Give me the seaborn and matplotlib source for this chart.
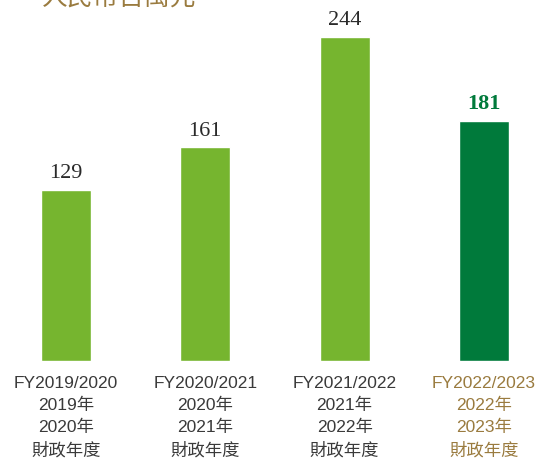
import matplotlib
matplotlib.use("Agg")
import matplotlib.pyplot as plt
import seaborn as sns
import pandas as pd

# ---------------------------------------------------------------------------
# Data
# ---------------------------------------------------------------------------
years = ["FY2019/2020", "FY2020/2021", "FY2021/2022", "FY2022/2023"]
tick_labels = [
    "FY2019/2020\n2019年\n2020年\n財政年度",
    "FY2020/2021\n2020年\n2021年\n財政年度",
    "FY2021/2022\n2021年\n2022年\n財政年度",
    "FY2022/2023\n2022年\n2023年\n財政年度",
]
values = [129, 161, 244, 181]
is_current = ["past", "past", "past", "current"]
title = "人民幣百萬元"

LIGHT_GREEN = "#76b52f"
DARK_GREEN = "#007a3b"
GOLD = "#9a7b3f"
GREY = "#3a3a3a"

df = pd.DataFrame({"year": years, "value": values, "kind": is_current})

sns.set_theme(style="white")
plt.rcParams["font.family"] = ["Liberation Sans", "Noto Sans CJK TC", "DejaVu Sans"]

fig = plt.figure(figsize=(5.39, 4.60), dpi=100)
ax = fig.add_axes([0, 98 / 460, 1, 362 / 460])

sns.barplot(data=df, x="year", y="value", hue="kind",
            palette={"past": LIGHT_GREEN, "current": DARK_GREEN},
            width=0.36, legend=False, ax=ax, saturation=1)

ax.set_xlim(-0.474, 3.396)
ax.set_ylim(0, 272.6)
for s in ax.spines.values():
    s.set_visible(False)
ax.set_yticks([])
ax.set_xlabel("")
ax.set_ylabel("")

ax.set_xticks(range(len(years)))
ax.set_xticklabels(tick_labels, fontsize=12.5, linespacing=1.55)
ax.tick_params(axis="x", length=0, pad=10)
for lbl, kind in zip(ax.get_xticklabels(), is_current):
    lbl.set_color(GOLD if kind == "current" else GREY)

# value labels
for i, (v, kind) in enumerate(zip(values, is_current)):
    ax.annotate(f"{v}", xy=(i, v), xytext=(0, 5.5), textcoords="offset points",
                ha="center", va="bottom", fontsize=16,
                family="Liberation Serif",
                fontweight="bold" if kind == "current" else "normal",
                color=DARK_GREEN if kind == "current" else "#2a2a2a")

# title, cut off at the top edge like the reference
fig.text(42 / 539, 1 - 5 / 460, title, ha="left", va="baseline",
         fontsize=18.5, color=GOLD, family=["Noto Sans CJK TC"])

fig.savefig("out.png", dpi=100)
